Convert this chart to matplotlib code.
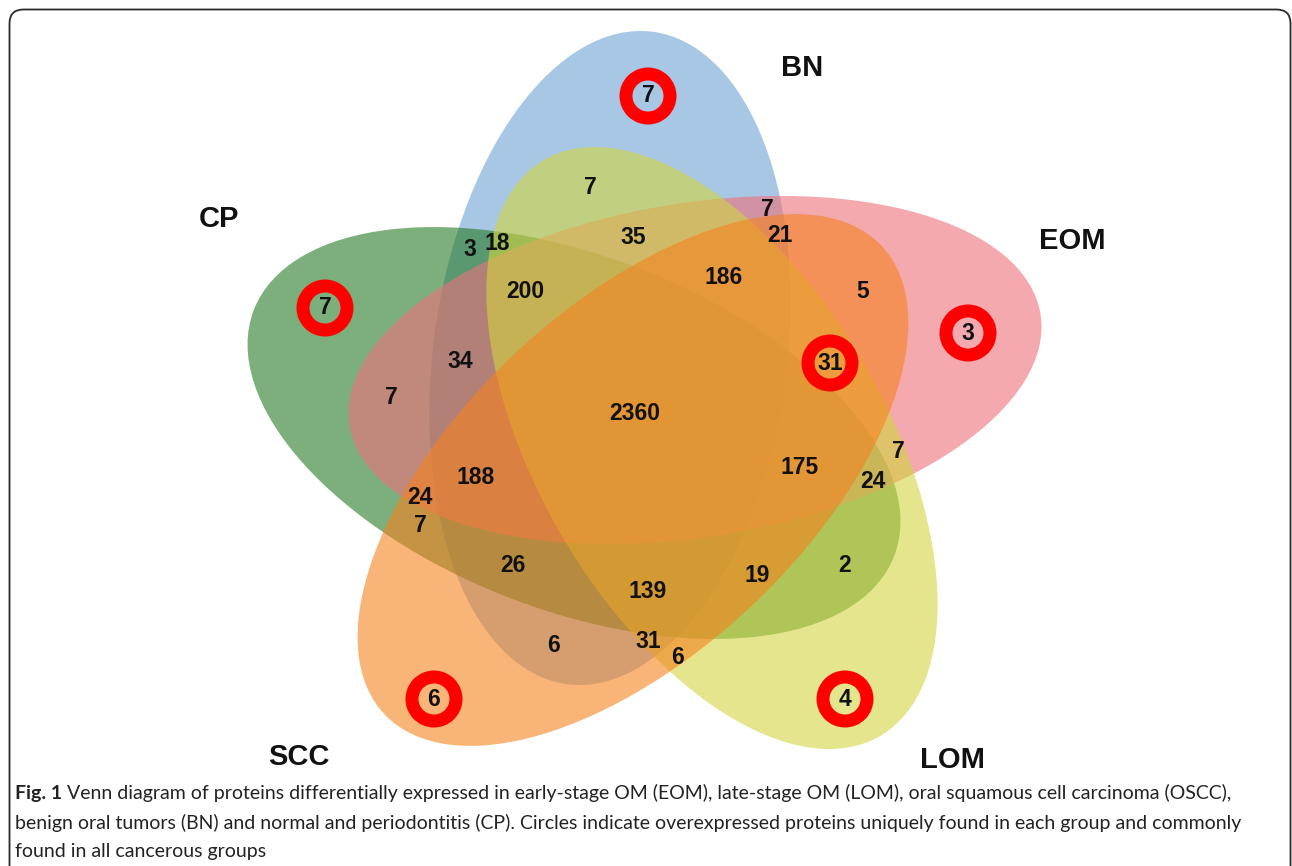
import matplotlib
matplotlib.use('Agg')
import matplotlib.pyplot as plt
from matplotlib.patches import Ellipse, Wedge, FancyBboxPatch

# groups and the protein counts in each Venn region
groups = ['BN', 'CP', 'EOM', 'LOM', 'SCC']
group_colors = ['#6ea3d5', '#267a26', '#ee717a', '#d2d53f', '#f5821f']

unique_counts = [7, 7, 3, 4, 6]        # BN, CP, EOM, LOM, SCC
common_cancer = 31                      # shared by all cancerous groups

region_counts = [2360, 7, 35, 3, 18, 200, 186, 7, 21, 5, 34, 7, 188,
                 24, 7, 26, 6, 139, 31, 6, 19, 2, 175, 24, 7]

# ellipse geometry: centre, full width, full height, rotation (pixels, y down)
shapes = [((610, 358), 658, 354, -82.5),
          ((574, 433), 686, 354, 21.0),
          ((695, 370), 700, 334, -9.2),
          ((712, 448), 667, 348, 59.7),
          ((633, 480), 683, 346, -43.3)]

name_pos = [(802, 68), (219, 219), (1072, 241), (953, 760), (299, 757)]
unique_pos = [(648, 96), (325, 308), (968, 333), (845, 699), (434, 699)]
common_pos = (830, 363)
region_pos = [(635, 413), (590, 188), (633, 237), (470, 250), (497, 243),
              (525, 291), (724, 278), (767, 210), (780, 235), (863, 292),
              (460, 362), (391, 397), (476, 477), (420, 497), (420, 525),
              (513, 566), (553, 645), (648, 592), (648, 641), (678, 657),
              (757, 575), (845, 565), (800, 467), (873, 482), (898, 452)]

W, H = 1292, 866
fig = plt.figure(figsize=(W / 100, H / 100), dpi=100)
ax = fig.add_axes([0, 0, 1, 1])
ax.set_xlim(0, W)
ax.set_ylim(H, 0)
ax.axis('off')

# rounded frame round the figure
frame = FancyBboxPatch((9.5, 9.5), W - 11, H + 40,
                       boxstyle='round,pad=0,rounding_size=14',
                       fill=False, ec='#2a2a2a', lw=1.3, zorder=0)
ax.add_patch(frame)

for (c, w, h, ang), col in zip(shapes, group_colors):
    ax.add_patch(Ellipse(c, w, h, angle=ang, fc=col, ec='none', alpha=0.6, zorder=1))

num_font = dict(family='Liberation Sans', weight='bold', fontsize=16.5,
                ha='center', va='center', color='#111111', zorder=5)

for name, (x, y) in zip(groups, name_pos):
    ax.text(x, y, name, family='Liberation Sans', weight='bold', fontsize=21,
            ha='center', va='center', color='#111111', zorder=5)

# red rings around unique / common counts
for n, (x, y) in zip(unique_counts + [common_cancer], unique_pos + [common_pos]):
    ax.add_patch(Wedge((x, y), 28.5, 0, 360, width=13, fc='#ff0000', ec='none', zorder=4))
    ax.text(x, y, str(n), **num_font)

for n, (x, y) in zip(region_counts, region_pos):
    ax.text(x, y, str(n), **num_font)

# caption
cap_font = dict(family='Lato', fontsize=14.0, color='#222222', va='center', ha='left')
fig.canvas.draw()
r = fig.canvas.get_renderer()
t = ax.text(15, 793, 'Fig. 1', weight='bold', **cap_font)
bb = t.get_window_extent(renderer=r)
ax.text(15 + bb.width + 5, 793,
        'Venn diagram of proteins differentially expressed in early-stage OM (EOM), '
        'late-stage OM (LOM), oral squamous cell carcinoma (OSCC),', **cap_font)
ax.text(15, 823, 'benign oral tumors (BN) and normal and periodontitis (CP). Circles indicate '
        'overexpressed proteins uniquely found in each group and commonly', **cap_font)
ax.text(15, 852, 'found in all cancerous groups', **cap_font)

fig.savefig('out.png', dpi=100)
